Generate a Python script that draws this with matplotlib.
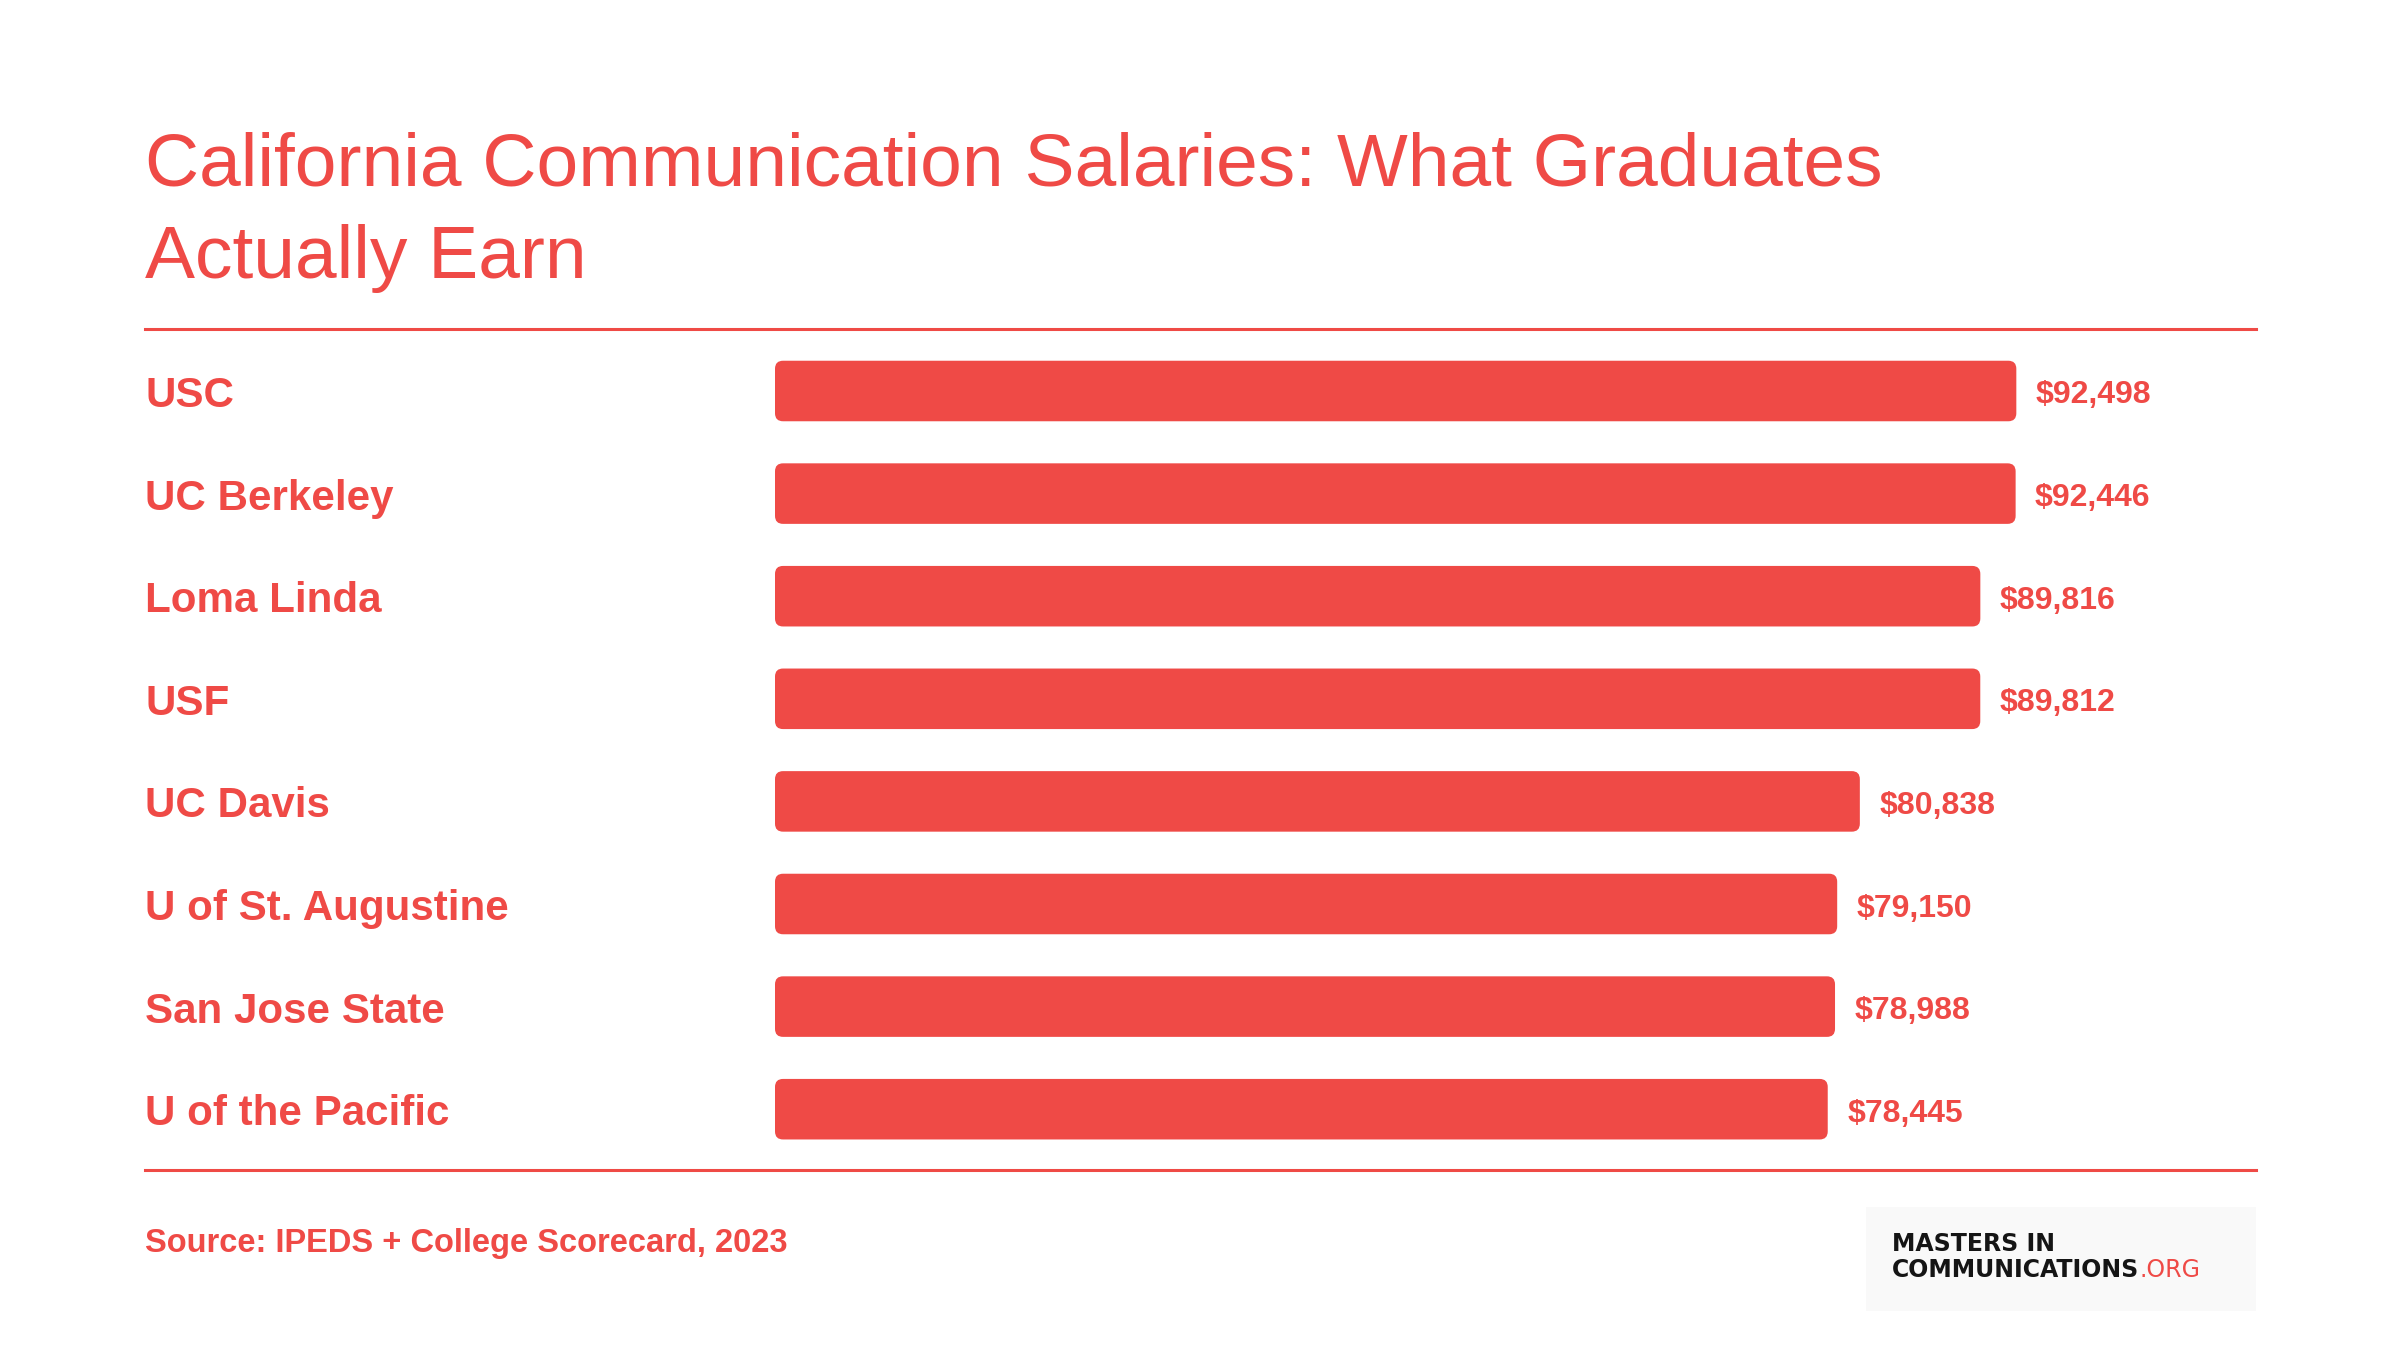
import matplotlib
matplotlib.use('Agg')
import matplotlib.pyplot as plt
from matplotlib.patches import FancyBboxPatch, Rectangle
from matplotlib.lines import Line2D
import matplotlib.transforms as mtransforms

# data
schools = ['USC', 'UC Berkeley', 'Loma Linda', 'USF', 'UC Davis',
           'U of St. Augustine', 'San Jose State', 'U of the Pacific']
salaries = [92498, 92446, 89816, 89812, 80838, 79150, 78988, 78445]

title = 'California Communication Salaries: What Graduates\nActually Earn'
source = 'Source: IPEDS + College Scorecard, 2023'

RED = '#EF4A46'
W, H = 2400, 1350   # pixels

plt.rcParams['font.family'] = ['Liberation Sans', 'DejaVu Sans']

fig = plt.figure(figsize=(24, 13.5), dpi=100)
fig.patch.set_facecolor('white')

# bar axes: x=0 sits at 775 px, 0..100000 over 1342 px
n = len(schools)
row = 102.6
top_px = 391 - row / 2
ax = fig.add_axes([775 / W, 1 - (top_px + n * row) / H, 1342 / W, n * row / H])
ax.set_xlim(0, 100000)
ax.set_ylim(n - 0.5, -0.5)
ax.axis('off')

bar_h = 0.59
px_x = 1342 / 100000          # pixels per dollar
rad = 8 / px_x                # corner radius in data x-units
aspect = (8 / row) / rad
for i, v in enumerate(salaries):
    p = FancyBboxPatch((0, i - bar_h / 2), v, bar_h,
                       boxstyle='round,pad=0,rounding_size=%f' % rad,
                       mutation_aspect=aspect, facecolor=RED, edgecolor='none')
    ax.add_patch(p)
    ax.annotate('${:,}'.format(v), xy=(v, i), xytext=(14, -9),
                textcoords='offset points', va='baseline', ha='left',
                fontsize=23, fontweight='bold', color=RED)

# school names on the left, aligned to the rows
trans = mtransforms.blended_transform_factory(fig.transFigure, ax.transData)
for i, s in enumerate(schools):
    ax.annotate(s, xy=(145 / W, i), xycoords=trans, xytext=(0, -11.5),
                textcoords='offset points', va='baseline', ha='left',
                fontsize=30.3, fontweight='bold', color=RED)

# title
fig.text(145 / W, 1 - 186 / H, title.split('\n')[0], fontsize=54,
         color=RED, va='baseline', ha='left')
fig.text(145 / W, 1 - 278 / H, title.split('\n')[1], fontsize=54,
         color=RED, va='baseline', ha='left')

# rules
for y in (329, 1170):
    fig.add_artist(Line2D([145 / W, 2256 / W], [1 - y / H, 1 - y / H],
                          transform=fig.transFigure, color=RED, lw=2.2))

# source
fig.text(145 / W, 1 - 1252 / H, source, fontsize=23.5, fontweight='bold',
         color=RED, va='baseline', ha='left')

# logo box
fig.add_artist(Rectangle((1866 / W, 1 - 1311 / H), 390 / W, 104 / H,
                         transform=fig.transFigure, facecolor='#F9F9F9',
                         edgecolor='none'))
fig.text(1892 / W, 1 - 1251 / H, 'MASTERS IN', fontsize=17, fontweight='bold',
         family='DejaVu Sans', color='#151515', va='baseline', ha='left')
t = fig.text(1892 / W, 1 - 1277 / H, 'COMMUNICATIONS', fontsize=17,
             fontweight='bold', family='DejaVu Sans', color='#151515',
             va='baseline', ha='left')
fig.canvas.draw()
bb = t.get_window_extent()
fig.text(bb.x1 / W, 1 - 1277 / H, '.ORG', fontsize=17, family='DejaVu Sans',
         color=RED, va='baseline', ha='left')

fig.savefig('out.png', dpi=100, facecolor='white')
